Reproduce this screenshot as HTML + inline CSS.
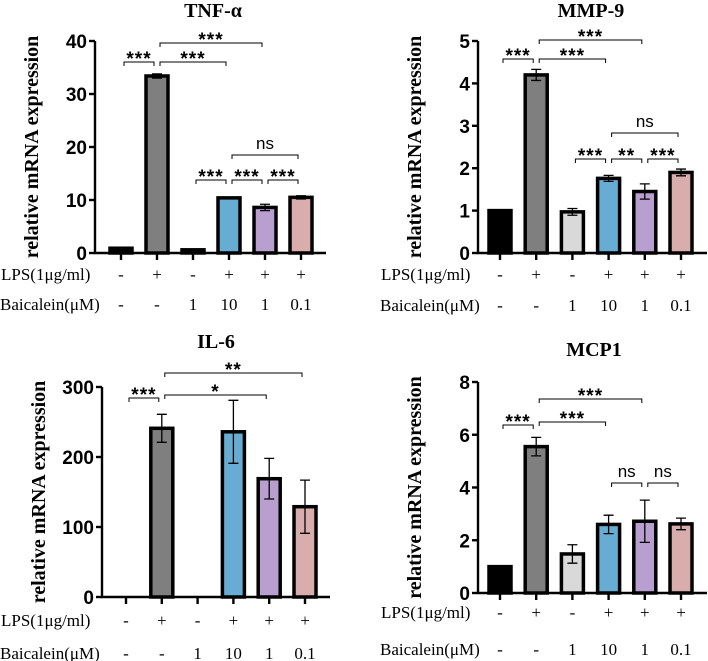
<!DOCTYPE html>
<html><head><meta charset="utf-8"><style>
html,body{margin:0;padding:0;background:#fff;width:708px;height:661px;overflow:hidden}
svg{display:block}
</style></head><body>
<svg id="fig" width="708" height="661" xmlns="http://www.w3.org/2000/svg"></svg>
<script>
const colors=["#000000","#7f7f7f","#d9d9d9","#67acd3","#b99fcf","#d9adab"];
const lpsLabels=["-","+","-","+","+","+"];
const baiLabels=["-","-","1","10","1","0.1"];

const tnfValues=[0.9,33.4,0.6,10.4,8.6,10.5];
const tnfErrors=[0,0.4,0,0.1,0.6,0.3];
const tnfTicks=[0,10,20,30,40];
const tnfSig=[[0,1,"***",62],[1,3,"***",62],[1,4,"***",43],[3,5,"ns",155],[2,3,"***",180],[3,4,"***",180],[4,5,"***",180]];

const mmpValues=[1,4.2,0.97,1.76,1.45,1.9];
const mmpErrors=[0,0.13,0.08,0.07,0.18,0.08];
const mmpTicks=[0,1,2,3,4,5];
const mmpSig=[[0,1,"***",59],[1,3,"***",59],[1,4,"***",40],[3,5,"ns",133],[2,3,"***",159],[3,4,"**",159],[4,5,"***",159]];

const il6Values=[0,241,0,236,169,129];
const il6Errors=[0,20,0,45,29,38];
const il6Ticks=[0,100,200,300];
const il6Sig=[[0,1,"***",398],[1,4,"*",395],[1,5,"**",373]];

const mcpValues=[1,5.55,1.48,2.6,2.72,2.62];
const mcpErrors=[0,0.35,0.35,0.35,0.8,0.22];
const mcpTicks=[0,2,4,6,8];
const mcpSig=[[0,1,"***",425],[1,3,"***",422],[1,4,"***",399],[3,4,"ns",483],[4,5,"ns",483]];

const svg=document.getElementById('fig');
const NS="http://www.w3.org/2000/svg";
function mk(tag,attrs,parent){const e=document.createElementNS(NS,tag);for(const k in attrs)e.setAttribute(k,attrs[k]);(parent||svg).appendChild(e);return e;}

function panel(p){
  const g=mk('g',{});
  
  
  const ys=v=>p.y0-(v/p.max)*(p.y0-p.yTop);
  const xs=i=>p.x0+i*p.dx;
  const t=mk('text',{x:p.tx,y:p.ty,'text-anchor':'middle','font-family':'Liberation Serif, serif','font-weight':'bold','font-size':'20'},g);
  t.textContent=p.title;
  
  
  const yl=mk('text',{transform:`translate(${p.ax-57},${(p.y0+p.yTop)/2}) rotate(-90)`,'text-anchor':'middle','font-family':'Liberation Serif, serif','font-weight':'bold','font-size':'20'},g);
  yl.textContent='relative mRNA expression';
  
  
  p.values.forEach((v,i)=>{
    if(v<=0)return;
    const b=mk('rect',{x:xs(i)-11,y:ys(v),width:22,height:p.y0-ys(v),fill:colors[i],stroke:'#000','stroke-width':3.5},g);
    
    
    const e=p.errors[i];
    if(e>0){
      const eg=mk('path',{d:`M${xs(i)},${ys(v+e)}V${ys(v-e)}M${xs(i)-5},${ys(v+e)}H${xs(i)+5}M${xs(i)-5},${ys(v-e)}H${xs(i)+5}`,stroke:'#000','stroke-width':1.3,fill:'none'},g);
      
      
    }
  });
  const ax=mk('path',{d:`M${p.ax},${p.yTop}V${p.y0}H${p.xEnd}`,stroke:'#000','stroke-width':2.4,fill:'none'},g);
  
  
  p.ticks.forEach(tv=>{
    mk('line',{x1:p.ax-6,x2:p.ax,y1:ys(tv),y2:ys(tv),stroke:'#000','stroke-width':2.4},g);
    const tl=mk('text',{x:p.ax-8,y:ys(tv)+7,'text-anchor':'end','font-family':'Liberation Sans, sans-serif','font-weight':'bold','font-size':'19'},g);
    tl.textContent=tv;
    
    
  });
  p.values.forEach((v,i)=>{
    mk('line',{x1:xs(i),x2:xs(i),y1:p.y0,y2:p.y0+7,stroke:'#000','stroke-width':2.4},g);
    const a=mk('text',{x:xs(i),y:p.lpsY+6,'text-anchor':'middle','font-family':'Liberation Serif, serif','font-size':'17'},g);
    a.textContent=lpsLabels[i];
    
    
    const b=mk('text',{x:xs(i),y:p.baiY+7,'text-anchor':'middle','font-family':'Liberation Serif, serif','font-size':'17'},g);
    b.textContent=baiLabels[i];
    
    
  });
  const l1=mk('text',{x:p.lx,y:p.lpsY+6,'font-family':'Liberation Serif, serif','font-size':'17'},g);
  l1.textContent='LPS(1μg/ml)';
  
  
  const l2=mk('text',{x:p.lx-1,y:p.baiY+7,'font-family':'Liberation Serif, serif','font-size':'17'},g);
  l2.textContent='Baicalein(μM)';
  
  
  p.sig.forEach(s=>{
    const x1=xs(s[0])+3,x2=xs(s[1])-3,y=s[3];
    const br=mk('path',{d:`M${x1},${y+4}V${y}H${x2}V${y+4}`,stroke:'#000','stroke-width':1,fill:'none'},g);
    
    
    const ns=s[2]==='ns';
    const st=mk('text',{x:(x1+x2)/2,y:ns?y-6:y+3,'text-anchor':'middle','font-family':'Liberation Sans, sans-serif','font-weight':ns?'normal':'bold','font-size':ns?'17':'19','letter-spacing':ns?'0':'1'},g);
    st.textContent=s[2];
    
    
  });
}
panel({name:'tnf',title:'TNF-α',tx:213,ty:17,values:tnfValues,errors:tnfErrors,ticks:tnfTicks,sig:tnfSig,max:40,ax:95,yTop:41,y0:253,x0:121,dx:36,xEnd:326,lpsY:274,baiY:303,lx:1});
panel({name:'mmp9',title:'MMP-9',tx:591,ty:17,values:mmpValues,errors:mmpErrors,ticks:mmpTicks,sig:mmpSig,max:5,ax:478,yTop:41,y0:253,x0:500,dx:36.2,xEnd:707,lpsY:274,baiY:304,lx:381});
panel({name:'il6',title:'IL-6',tx:216,ty:348,values:il6Values,errors:il6Errors,ticks:il6Ticks,sig:il6Sig,max:300,ax:102,yTop:387,y0:597,x0:126,dx:35.8,xEnd:330,lpsY:620,baiY:652,lx:1});
panel({name:'mcp1',title:'MCP1',tx:594,ty:356,values:mcpValues,errors:mcpErrors,ticks:mcpTicks,sig:mcpSig,max:8,ax:478,yTop:382,y0:593,x0:500,dx:36.2,xEnd:707,lpsY:612,baiY:648,lx:381});
</script>
</body></html>
